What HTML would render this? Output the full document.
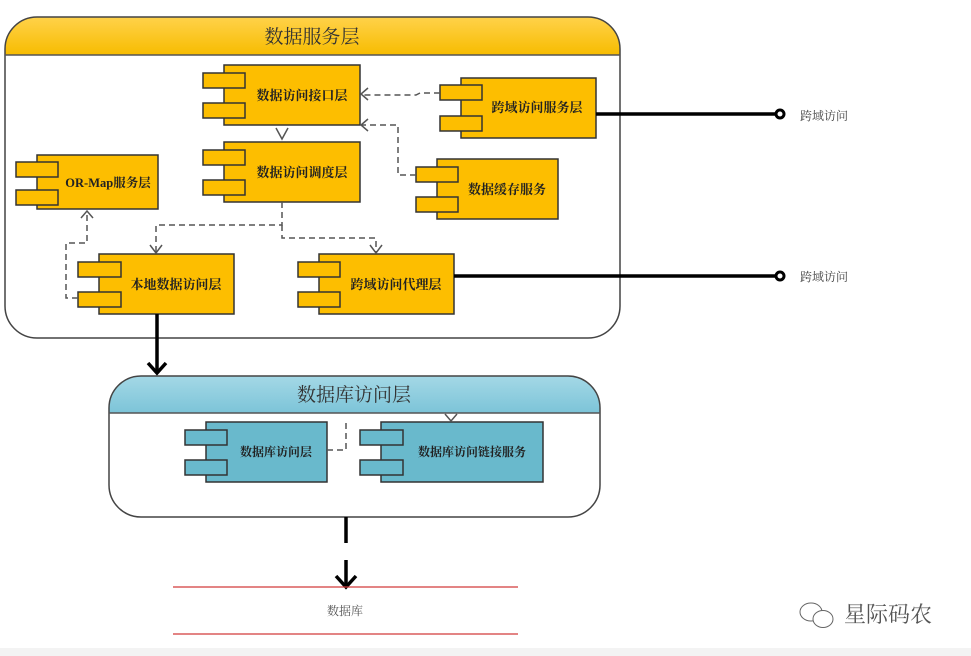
<!DOCTYPE html>
<html><head><meta charset="utf-8"><style>
html,body{margin:0;padding:0;background:#fff;}
svg{display:block;}
text{font-family:"Liberation Serif","Noto Serif CJK SC","Noto Sans CJK SC",serif;}
</style></head><body>
<svg width="971" height="656" viewBox="0 0 971 656" xmlns="http://www.w3.org/2000/svg">
<defs>
<linearGradient id="yg" x1="0" y1="0" x2="0" y2="1"><stop offset="0" stop-color="#ffd24a"/><stop offset="1" stop-color="#f7bc00"/></linearGradient>
<linearGradient id="bg" x1="0" y1="0" x2="0" y2="1"><stop offset="0" stop-color="#a4d8e6"/><stop offset="1" stop-color="#7cc4d8"/></linearGradient>
<clipPath id="c1"><rect x="5" y="17" width="615" height="321" rx="32"/></clipPath>
<clipPath id="c2"><rect x="109" y="376" width="491" height="141" rx="32"/></clipPath>
</defs>
<rect x="0" y="648" width="971" height="8" fill="#f3f3f3"/>
<g clip-path="url(#c1)"><rect x="5" y="17" width="615" height="38" fill="url(#yg)"/></g>
<rect x="5" y="17" width="615" height="321" rx="32" fill="none" stroke="#444" stroke-width="1.5"/>
<line x1="5" y1="55" x2="620" y2="55" stroke="#555" stroke-width="1.5"/>
<text x="312" y="43" font-size="19" text-anchor="middle" fill="#333">数据服务层</text>
<g clip-path="url(#c2)"><rect x="109" y="376" width="491" height="37" fill="url(#bg)"/></g>
<rect x="109" y="376" width="491" height="141" rx="32" fill="none" stroke="#444" stroke-width="1.5"/>
<line x1="109" y1="413" x2="600" y2="413" stroke="#555" stroke-width="1.5"/>
<text x="354" y="401" font-size="19" text-anchor="middle" fill="#333">数据库访问层</text>

<g stroke="#333" stroke-width="1.5" fill="#fdbe00">
<rect x="224" y="65" width="136" height="60"/><rect x="203" y="73" width="42" height="15"/><rect x="203" y="103" width="42" height="15"/>
<rect x="224" y="142" width="136" height="60"/><rect x="203" y="150" width="42" height="15"/><rect x="203" y="180" width="42" height="15"/>
<rect x="37" y="155" width="121" height="54"/><rect x="16" y="162" width="42" height="15"/><rect x="16" y="190" width="42" height="15"/>
<rect x="461" y="78" width="135" height="60"/><rect x="440" y="85" width="42" height="15"/><rect x="440" y="116" width="42" height="15"/>
<rect x="437" y="159" width="121" height="60"/><rect x="416" y="167" width="42" height="15"/><rect x="416" y="197" width="42" height="15"/>
<rect x="99" y="254" width="135" height="60"/><rect x="78" y="262" width="43" height="15"/><rect x="78" y="292" width="43" height="15"/>
<rect x="319" y="254" width="135" height="60"/><rect x="298" y="262" width="42" height="15"/><rect x="298" y="292" width="42" height="15"/>
</g>
<g stroke="#333" stroke-width="1.5" fill="#69b9cc">
<rect x="206" y="422" width="121" height="60"/><rect x="185" y="430" width="42" height="15"/><rect x="185" y="460" width="42" height="15"/>
<rect x="381" y="422" width="162" height="60"/><rect x="360" y="430" width="43" height="15"/><rect x="360" y="460" width="43" height="15"/>
</g>

<g font-size="13" fill="#222" text-anchor="middle" font-weight="bold">
<text x="302" y="100">数据访问接口层</text>
<text x="302" y="177">数据访问调度层</text>
<text x="108" y="187" font-size="12.5">OR-Map服务层</text>
<text x="537" y="112">跨域访问服务层</text>
<text x="507" y="194">数据缓存服务</text>
<text x="176" y="289">本地数据访问层</text>
<text x="396" y="289">跨域访问代理层</text>
<text x="276" y="456" font-size="12">数据库访问层</text>
<text x="472" y="456" font-size="12">数据库访问链接服务</text>
</g>

<g stroke="#555" stroke-width="1.5" fill="none" stroke-dasharray="6,4">
<path d="M440 93 H420 L416 95 H362"/>
<path d="M416 175 H398 V125 H362"/>
<path d="M282 202 V225 H156 V252"/>
<path d="M282 225 V238 H376 V252"/>
<path d="M78 298 H66 V243 H87 V212"/>
<path d="M327 450 H346 V419"/>
</g>
<g stroke="#555" stroke-width="1.5" fill="none">
<path d="M368 88 L361 94 L368 100"/>
<path d="M368 119 L361 125 L368 131"/>
<path d="M276 128 L282 139 L288 128"/>
<path d="M150 245 L156 253 L162 245"/>
<path d="M370 245 L376 253 L382 245"/>
<path d="M81 218 L87 211 L93 218"/>
<path d="M445 414 L451 421 L457 414"/>
</g>

<g stroke="#000" stroke-width="3.5" fill="none">
<line x1="596" y1="114" x2="775" y2="114"/>
<line x1="454" y1="276" x2="775" y2="276"/>
<line x1="157" y1="314" x2="157" y2="372"/>
<path d="M148 363 L157 373 L166 363"/>
<line x1="346" y1="517" x2="346" y2="543"/>
<line x1="346" y1="560" x2="346" y2="585"/>
<path d="M336 576 L346 587 L356 576"/>
</g>
<circle cx="780" cy="114" r="4" fill="#fff" stroke="#000" stroke-width="3"/>
<circle cx="780" cy="276" r="4" fill="#fff" stroke="#000" stroke-width="3"/>
<text x="800" y="120" font-size="12" fill="#444">跨域访问</text>
<text x="800" y="281" font-size="12" fill="#444">跨域访问</text>

<line x1="173" y1="587" x2="518" y2="587" stroke="#d23a3a" stroke-width="1.2"/>
<line x1="173" y1="634" x2="518" y2="634" stroke="#d23a3a" stroke-width="1.2"/>
<text x="345" y="615" font-size="12" fill="#555" text-anchor="middle">数据库</text>

<g stroke="#666" stroke-width="1" fill="#fff">
<ellipse cx="811" cy="612" rx="11" ry="9"/>
<ellipse cx="823" cy="619" rx="10" ry="8.5"/>
</g>
<text x="844" y="622" font-size="22" fill="#555" font-family="Liberation Sans,'Noto Sans CJK SC',sans-serif">星际码农</text>
</svg>
</body></html>
